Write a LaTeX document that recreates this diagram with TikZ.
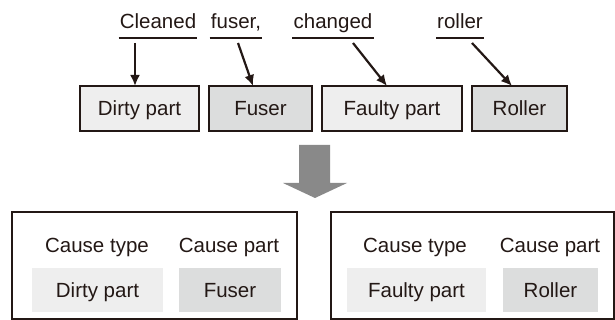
\documentclass[tikz,border=0pt]{standalone}
\usepackage{fontspec}
\setmainfont{Liberation Sans}
\usetikzlibrary{arrows.meta,positioning}
\definecolor{ink}{RGB}{35,24,21}
\definecolor{lightcell}{RGB}{238,238,238}
\definecolor{darkcell}{RGB}{220,221,221}
\definecolor{bigarrow}{RGB}{137,137,137}
\tikzset{
	txt/.style={text=ink, font=\fontsize{20.5}{24}\selectfont},
	partbox/.style={txt, draw=ink, line width=2.6pt, minimum height=45pt, inner sep=0pt, outer sep=0pt, text height=14.7pt, text depth=0pt},
	word/.style={txt, inner xsep=1pt, inner ysep=0pt, anchor=base},
	cell/.style={txt, minimum height=44pt, inner sep=0pt, text height=14.7pt, text depth=0pt},
	panel/.style={draw=ink, line width=2.6pt, minimum height=107pt, inner sep=0pt},
	pointer/.style={draw=ink, line width=2.2pt, -{Latex[length=11pt,width=10pt]}},
	rule/.style={draw=ink, line width=2.2pt},
}
\begin{document}
\begin{tikzpicture}[x=1pt, y=-1pt]
			%%%%% START %%%%%
			\useasboundingbox (0, 0) rectangle (615, 320);
			
			% top row of parts
			\node[partbox, fill=lightcell, minimum width=119pt] (dirty) at (139.5, 108.5) {Dirty part};
			\node[partbox, fill=darkcell, minimum width=103pt, right=10pt of dirty] (fuser) {Fuser};
			\node[partbox, fill=lightcell, minimum width=140pt, right=10pt of fuser] (faulty) {Faulty part};
			\node[partbox, fill=darkcell, minimum width=95pt, right=10pt of faulty] (roller) {Roller};
			
			% words of the sentence
			\node[word] (cleaned) at (158, 29) {Cleaned};
			\node[word] (fuserw) at (236, 29) {fuser,};
			\node[word] (changed) at (333, 29) {changed};
			\node[word] (rollerw) at (460, 29) {roller};
			
			\draw[rule] ([yshift=-9pt]cleaned.base west) -- ([yshift=-9pt]cleaned.base east);
			\draw[rule] ([yshift=-9pt]fuserw.base west) -- ([yshift=-9pt]fuserw.base east);
			\draw[rule] ([yshift=-9pt]changed.base west) -- ([yshift=-9pt]changed.base east);
			\draw[rule] ([yshift=-9pt]rollerw.base west) -- ([yshift=-9pt]rollerw.base east);
			
			\draw[pointer] ([xshift=-23pt, yshift=-14pt]cleaned.base) -- ([xshift=-4.5pt]dirty.north);
			\draw[pointer] ([xshift=2pt, yshift=-14pt]fuserw.base) -- ([xshift=-7.5pt]fuser.north);
			\draw[pointer] ([xshift=20pt, yshift=-14pt]changed.base) -- ([xshift=-5pt]faulty.north);
			\draw[pointer] ([xshift=12pt, yshift=-14pt]rollerw.base) -- ([xshift=-7.5pt]roller.north);
			
			% big arrow
			\fill[bigarrow] (299, 145) -- (330, 145) -- (330, 183) -- (347, 183) -- (315, 198) -- (283, 183) -- (299, 183) -- cycle;
			
			% result panels
			\node[panel, minimum width=285pt] (leftpanel) at (154.5, 265.5) {};
			\node[panel, minimum width=283pt] (rightpanel) at (472.5, 265.5) {};
			
			\node[word] (typeA) at (97, 252) {Cause type};
			\node[word] (partA) at (229, 252) {Cause part};
			\node[cell, fill=lightcell, minimum width=131pt] (dirtycell) at (97.5, 290) {Dirty part};
			\node[cell, fill=darkcell, minimum width=102pt] (fusercell) at (230, 290) {Fuser};
			
			\node[word] (typeB) at (415, 252) {Cause type};
			\node[word] (partB) at (550, 252) {Cause part};
			\node[cell, fill=lightcell, minimum width=139pt] (faultycell) at (416.5, 290) {Faulty part};
			\node[cell, fill=darkcell, minimum width=95pt] (rollercell) at (550.5, 290) {Roller};
			%%%%% END %%%%%
\end{tikzpicture}
\end{document}
